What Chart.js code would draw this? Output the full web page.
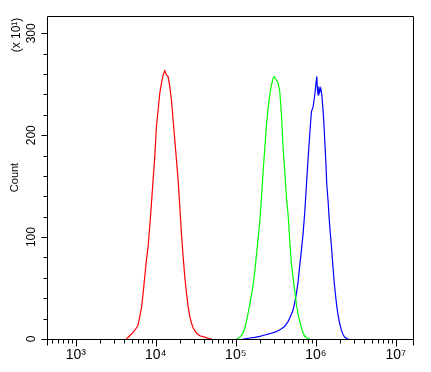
<!DOCTYPE html>
<html>
<head>
<meta charset="utf-8">
<script src="https://cdn.jsdelivr.net/npm/chart.js@4.4.1/dist/chart.umd.min.js"></script>
<style>
  html, body { margin: 0; padding: 0; background: #fff; }
</style>
</head>
<body>
<canvas id="chart" width="431" height="372"></canvas>
<script>
// fluorescence intensity (x) and count in units of 10 (y)
const redX = [4300, 4730, 5210, 5730, 6020, 6310, 6620, 6950, 7290, 7640, 8020, 8410, 8830, 9260, 9720, 10190, 10700, 11220, 11770, 12350, 12960, 13590, 14260, 14960, 15700, 16470, 17280, 18130, 19020, 19950, 20930, 21960, 23040, 24170, 25360, 26610, 27910, 29290, 32240, 35480, 40970, 45100, 50100];
const redY = [0, 3.2, 6.5, 10.8, 14, 22.2, 30.4, 45, 61.4, 77.7, 90.8, 110.4, 133.3, 156.2, 179, 208.5, 224.8, 241.2, 251, 259.1, 263.3, 259.1, 257.5, 247.7, 234.6, 215, 195.4, 175.8, 156.2, 130, 103.9, 81, 61.4, 45.1, 32, 22.2, 15.7, 10.8, 5.8, 3.2, 1.9, 0.6, 0];

const greenX = [101900, 112200, 123500, 129600, 135900, 142600, 149600, 157000, 164700, 172800, 181300, 190200, 199500, 209300, 219600, 230400, 241700, 253600, 266100, 279100, 292900, 301400, 316200, 338200, 354800, 372300, 390700, 409700, 429900, 451000, 473200, 496400, 521000, 546500, 573400, 601500, 631000, 662000, 694500, 728600, 779300, 841400];
const greenY = [0, 1.6, 5.9, 10.8, 17.3, 25.5, 33.6, 43.4, 53.2, 66.3, 82.6, 99, 115.3, 138.2, 164.3, 187.2, 210.1, 226.4, 239.5, 249.3, 255.8, 257.5, 255.2, 251, 242.8, 219.9, 187.2, 164.3, 138.2, 121.9, 95.7, 72.8, 59.8, 46.7, 33.6, 23.8, 17.3, 10.8, 5.9, 2.6, 1, 0];

const blueX = [122300, 135900, 149600, 172800, 199500, 230400, 266100, 307300, 338200, 372300, 409700, 451000, 473200, 496400, 521000, 546500, 573400, 601500, 631000, 662000, 694500, 728600, 764200, 801900, 841400, 882700, 926100, 971600, 1000000, 1029000, 1049000, 1070000, 1090000, 1122000, 1155000, 1189000, 1223000, 1259000, 1296000, 1334000, 1372000, 1426000, 1468000, 1511000, 1570000, 1631000, 1695000, 1761000, 1830000, 1901000, 1995000, 2093000, 2196000, 2304000, 2536000];
const blueY = [0, 0.3, 1, 1.6, 2.6, 3.9, 5.2, 6.8, 8.1, 10.1, 12.4, 17.3, 20.6, 24.5, 28.7, 36.2, 45.1, 56.5, 72.8, 87.5, 103.9, 125.1, 151.3, 177.4, 201.9, 223.2, 228.1, 239.5, 249.3, 257.5, 244.4, 239.5, 247.7, 242.8, 246.1, 239.5, 228.1, 213.4, 193.8, 174.2, 151.3, 134.9, 118.6, 105.5, 90.8, 72.8, 56.5, 43.4, 32, 23.2, 14.7, 8.5, 4.2, 1.6, 0];

const xDecades = [3, 4, 5, 6, 7];
const xTickLabels = ['10³', '10⁴', '10⁵', '10⁶', '10⁷'];
const yTickValues = [0, 100, 200, 300];
const yTickLabels = ['0', '100', '200', '300'];
const yTitle = 'Count';
const yUnit = '(x 10¹)';

const xMin = 437, xMax = 16400000;
const yMax = 317;

const FONT = '"Liberation Sans", Arial, sans-serif';

function pts(xs, ys) {
  return xs.map((x, i) => ({ x: x, y: ys[i] }));
}

// frame + tick marks (major long, minor short), placed with the chart's scales
const frame = {
  id: 'frame',
  afterDraw(chart) {
    const { ctx, chartArea: a, scales: { x, y } } = chart;
    const L = Math.round(a.left) + 0.5, R = Math.round(a.right) + 0.5;
    const T = Math.round(a.top) + 0.5, B = Math.round(a.bottom) + 0.5;
    ctx.save();
    ctx.strokeStyle = '#000';
    ctx.lineWidth = 1;
    ctx.beginPath();
    ctx.moveTo(L, B + 6); ctx.lineTo(L, T); ctx.lineTo(R, T); ctx.lineTo(R, B + 6);
    ctx.moveTo(L, B); ctx.lineTo(R, B);
    for (const t of x.ticks) {
      const px = Math.round(x.getPixelForValue(t.value)) + 0.5;
      ctx.moveTo(px, B);
      ctx.lineTo(px, B + (t.major ? 7 : 4));
    }
    for (const t of y.ticks) {
      const py = Math.round(y.getPixelForValue(t.value)) + 0.5;
      ctx.moveTo(L - (t.major ? 6 : 4), py);
      ctx.lineTo(L, py);
    }
    ctx.stroke();

    ctx.fillStyle = '#000';
    ctx.font = '12px ' + FONT;
    ctx.textAlign = 'center';
    ctx.textBaseline = 'middle';
    ctx.translate(17, 35);
    ctx.rotate(-Math.PI / 2);
    ctx.fillText(yUnit, 0, 0);
    ctx.restore();
  }
};

new Chart(document.getElementById('chart'), {
  type: 'line',
  data: {
    datasets: [
      { data: pts(redX, redY), borderColor: '#ff0000' },
      { data: pts(greenX, greenY), borderColor: '#00ff00' },
      { data: pts(blueX, blueY), borderColor: '#0000ff' }
    ]
  },
  options: {
    responsive: false,
    animation: false,
    devicePixelRatio: 1,
    layout: { padding: { left: 0, top: 16, right: 18, bottom: 0 } },
    elements: {
      line: { borderWidth: 1.2, tension: 0, fill: false },
      point: { radius: 0 }
    },
    plugins: { legend: { display: false }, tooltip: { enabled: false } },
    scales: {
      x: {
        type: 'logarithmic',
        min: xMin,
        max: xMax,
        grid: { display: false, drawTicks: false },
        border: { display: false },
        afterBuildTicks: axis => {
          const ticks = [];
          for (let e = 2; e <= 7; e++) {
            for (let m = 1; m <= 9; m++) {
              const v = m * Math.pow(10, e);
              if (v >= axis.min && v <= axis.max) ticks.push({ value: v, major: m === 1 });
            }
          }
          axis.ticks = ticks;
        },
        afterFit: axis => { axis.height = 33; },
        ticks: {
          autoSkip: false,
          maxRotation: 0,
          padding: 8,
          color: '#000',
          font: { family: FONT, size: 14 },
          callback: (value) => {
            const i = xDecades.indexOf(Math.round(Math.log10(value)));
            return (i >= 0 && Math.abs(value - Math.pow(10, xDecades[i])) < 1e-6) ? xTickLabels[i] : '';
          }
        }
      },
      y: {
        min: 0,
        max: yMax,
        grid: { display: false, drawTicks: false },
        border: { display: false },
        afterBuildTicks: axis => {
          const ticks = [];
          for (let v = 0; v <= axis.max; v += 20) ticks.push({ value: v, major: v % 100 === 0 });
          axis.ticks = ticks;
        },
        afterFit: axis => { axis.width = 47; },
        title: {
          display: true,
          text: yTitle,
          color: '#000',
          font: { family: FONT, size: 11 },
          padding: { top: 8, bottom: 0 }
        },
        ticks: {
          autoSkip: false,
          minRotation: 90,
          maxRotation: 90,
          crossAlign: 'center',
          padding: 5,
          color: '#000',
          font: { family: FONT, size: 12 },
          callback: (value) => {
            const i = yTickValues.indexOf(value);
            return i >= 0 ? yTickLabels[i] : '';
          }
        }
      }
    }
  },
  plugins: [frame]
});
</script>
</body>
</html>
